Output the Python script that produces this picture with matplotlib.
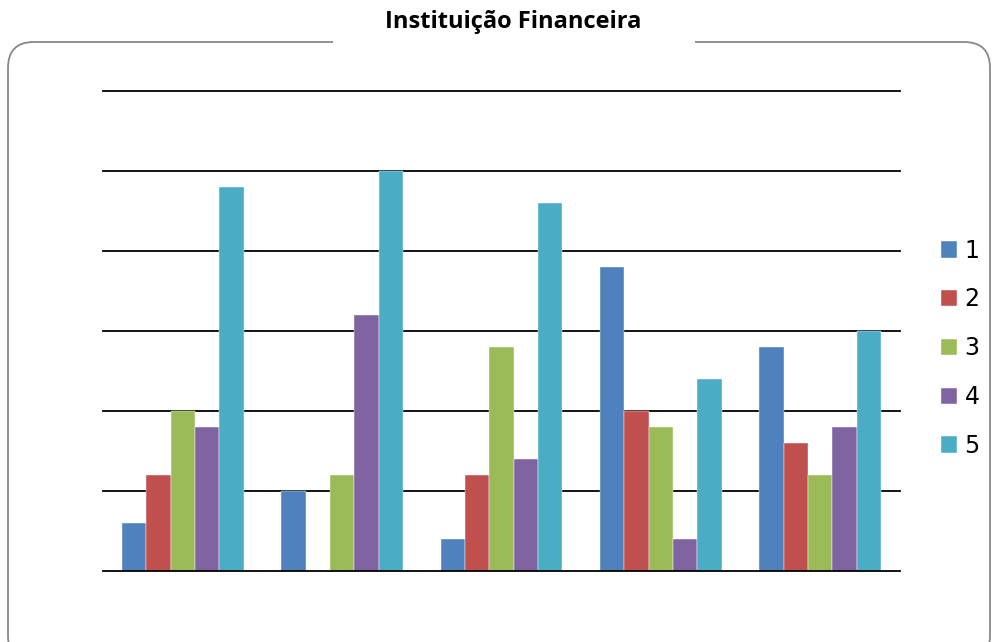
import numpy as np
import matplotlib.pyplot as plt
from matplotlib.patches import FancyBboxPatch, Rectangle

# dados
grupos = ['G1', 'G2', 'G3', 'G4', 'G5']
series = ['1', '2', '3', '4', '5']
s1 = [3, 5, 2, 19, 14]
s2 = [6, 0, 6, 10, 8]
s3 = [10, 6, 14, 9, 6]
s4 = [9, 16, 7, 2, 9]
s5 = [24, 25, 23, 12, 15]
cores = ['#4F81BD', '#C0504D', '#9BBB59', '#8064A2', '#4BACC6']
yticks = [0, 5, 10, 15, 20, 25, 30]

fig = plt.figure(figsize=(9.94, 6.42), dpi=100)

# moldura arredondada
W, H = 994, 642
box = FancyBboxPatch((8 / W, -20 / H), 982 / W, (642 - 42 + 20) / H,
                     boxstyle='round,pad=0,rounding_size=0.026',
                     transform=fig.transFigure, fill=False,
                     edgecolor='#888888', linewidth=1.3, mutation_aspect=W / H)
fig.patches.append(box)
fig.patches.append(Rectangle((333 / W, 1 - 48 / H), (695 - 333) / W, 12 / H,
                             transform=fig.transFigure, facecolor='white',
                             edgecolor='none', zorder=2))

fig.text(0.5165, 1 - 22 / H, 'Instituição Financeira', ha='center', va='center',
         fontsize=17, fontweight='bold', family='Open Sans', zorder=3)

ax = fig.add_axes([103 / W, 1 - 571 / H, 797 / W, 480 / H])
x = np.arange(len(grupos))
w = 0.153
dados = [s1, s2, s3, s4, s5]
for j, (vals, c) in enumerate(zip(dados, cores)):
    ax.bar(x + (j - 2) * w, vals, w, color=c, label=series[j], zorder=3,
           edgecolor='white', linewidth=0.3)

for v in yticks:
    ax.axhline(v, color='black', linewidth=1.3, zorder=2 if v else 4, clip_on=False)

ax.set_xlim(-0.5, 4.5)
ax.set_ylim(0, 30)
ax.set_xticks([])
ax.set_yticks([])
for s in ax.spines.values():
    s.set_visible(False)

ax.legend(loc='upper left', bbox_to_anchor=(1.04, 0.712), frameon=False,
          handlelength=0.68, handleheight=0.68, handletextpad=0.3,
          labelspacing=1.05, fontsize=17, borderaxespad=0)

fig.savefig('out.png', dpi=100)
